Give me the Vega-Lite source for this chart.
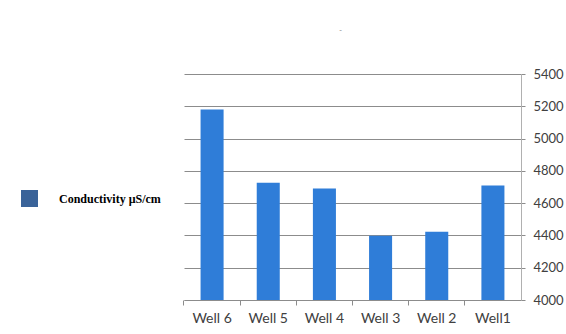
{
  "$schema": "https://vega.github.io/schema/vega-lite/v6.json",
  "autosize": "none",
  "width": 337,
  "height": 226,
  "padding": {"left": 184, "top": 74, "right": 45, "bottom": 34},
  "background": "white",
  "title": {"text": "-", "fontSize": 8, "color": "#8a8a8a", "fontWeight": "normal", "offset": 34, "dx": -12},
  "data": {
    "values": [
      {"well": "Well 6", "conductivity": 5180, "series": "Conductivity μS/cm"},
      {"well": "Well 5", "conductivity": 4727, "series": "Conductivity μS/cm"},
      {"well": "Well 4", "conductivity": 4690, "series": "Conductivity μS/cm"},
      {"well": "Well 3", "conductivity": 4398, "series": "Conductivity μS/cm"},
      {"well": "Well 2", "conductivity": 4423, "series": "Conductivity μS/cm"},
      {"well": "Well1", "conductivity": 4710, "series": "Conductivity μS/cm"}
    ]
  },
  "encoding": {
    "x": {
      "field": "well",
      "type": "nominal",
      "sort": null,
      "scale": {"paddingInner": 0.59, "paddingOuter": 0.295},
      "axis": {
        "title": null,
        "labelAngle": 0,
        "bandPosition": -0.72,
        "labelOffset": 0,
        "labelFont": "Lato",
        "labelFontSize": 14,
        "labelColor": "#404040",
        "labelPadding": 6,
        "tickSize": 5,
        "tickColor": "#8c8c8c",
        "domainColor": "#8c8c8c",
        "grid": false
      }
    },
    "y": {
      "field": "conductivity",
      "type": "quantitative",
      "scale": {"domain": [4000, 5400], "nice": false, "zero": false},
      "axis": {
        "orient": "right",
        "title": null,
        "format": "d",
        "values": [4000, 4200, 4400, 4600, 4800, 5000, 5200, 5400],
        "labelFont": "Lato",
        "labelFontSize": 13,
        "labelColor": "#404040",
        "labelPadding": 8,
        "tickSize": 4,
        "tickColor": "#8c8c8c",
        "domainColor": "#b0b0b0",
        "gridColor": "#8c8c8c",
        "grid": true
      }
    }
  },
  "layer": [
    {
      "mark": {"type": "bar", "clip": true, "color": "#2f7dd8"}
    },
    {
      "mark": {"type": "square", "size": 0, "filled": true, "opacity": 1},
      "encoding": {
        "color": {
          "field": "series",
          "type": "nominal",
          "scale": {"range": ["#3a6399"]},
          "legend": {
            "orient": "none",
            "legendX": -163,
            "legendY": 116,
            "title": null,
            "symbolType": "square",
            "symbolSize": 289,
            "symbolOpacity": 1,
            "symbolStrokeWidth": 0,
            "labelFont": "Liberation Serif",
            "labelFontWeight": "bold",
            "labelFontSize": 12,
            "labelColor": "#000000",
            "labelOffset": 21
          }
        }
      }
    }
  ],
  "config": {
    "view": {"stroke": null}
  }
}
